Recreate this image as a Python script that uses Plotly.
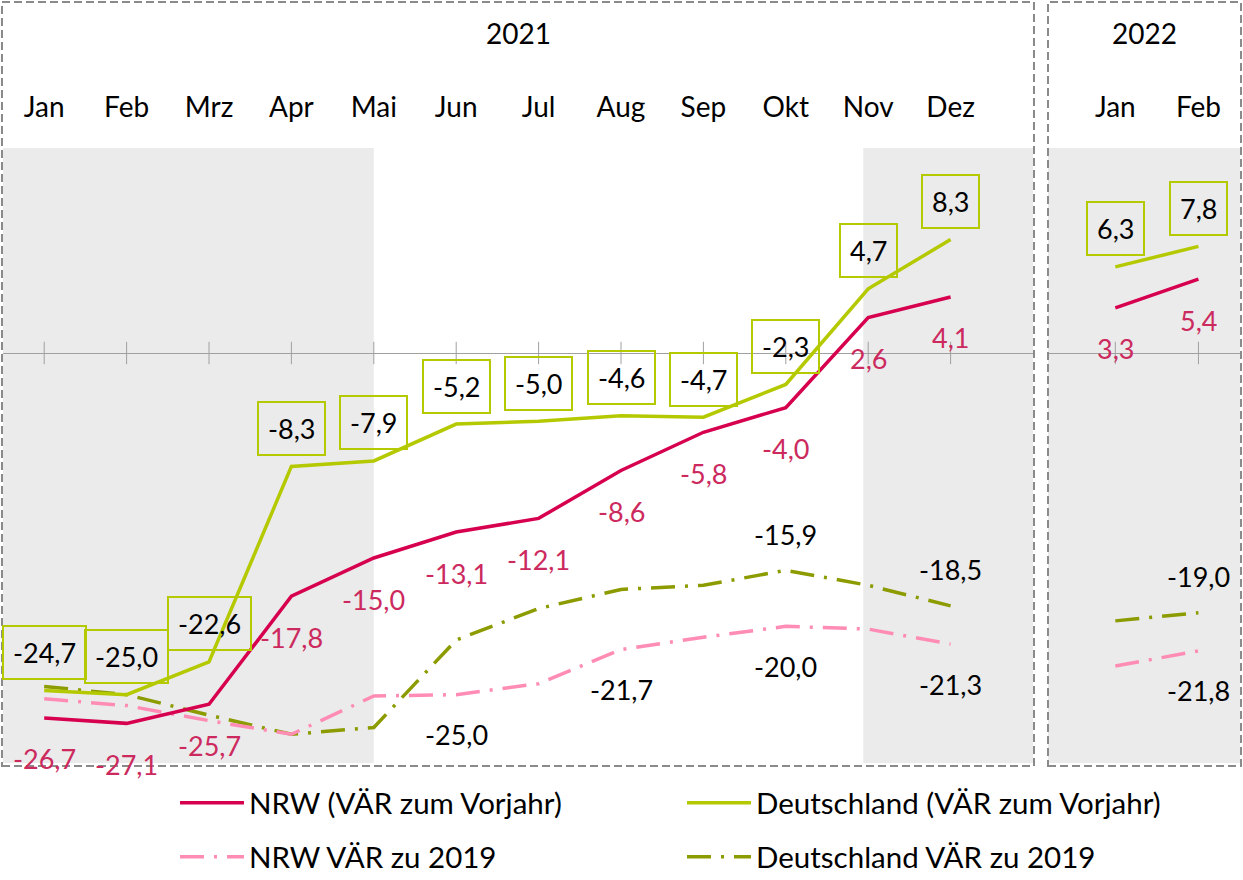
import plotly.graph_objects as go

# ---------------- data ----------------
months21 = ["Jan", "Feb", "Mrz", "Apr", "Mai", "Jun", "Jul", "Aug", "Sep", "Okt", "Nov", "Dez"]
months22 = ["Jan", "Feb"]
year_labels = ["2021", "2022"]

nrw_yoy_21 = [-26.7, -27.1, -25.7, -17.8, -15.0, -13.1, -12.1, -8.6, -5.8, -4.0, 2.6, 4.1]
nrw_yoy_22 = [3.3, 5.4]
de_yoy_21 = [-24.7, -25.0, -22.6, -8.3, -7.9, -5.2, -5.0, -4.6, -4.7, -2.3, 4.7, 8.3]
de_yoy_22 = [6.3, 7.8]
nrw_19_21 = [-25.3, -25.8, -26.9, -27.9, -25.1, -25.0, -24.2, -21.7, -20.8, -20.0, -20.2, -21.3]
nrw_19_22 = [-22.9, -21.8]
de_19_21 = [-24.4, -25.0, -26.5, -27.9, -27.4, -21.0, -18.7, -17.3, -17.0, -15.9, -17.0, -18.5]
de_19_22 = [-19.6, -19.0]

# which points carry a value label for the "zu 2019" series
nrw_19_labelled_21 = ["Jun", "Aug", "Okt", "Dez"]
nrw_19_labelled_22 = ["Feb"]
de_19_labelled_21 = ["Okt", "Dez"]
de_19_labelled_22 = ["Feb"]

names = ["NRW (VÄR zum Vorjahr)", "Deutschland (VÄR zum Vorjahr)",
         "NRW VÄR zu 2019", "Deutschland VÄR zu 2019"]

# ---------------- style ----------------
W, H = 1243, 880
L, R, T, B = 3, 3, 148, 117
PW, PH = W - L - R, H - T - B
FONT = "Lato, 'Open Sans', sans-serif"
FS = 27
FS_AX = 28
FS_LEG = 29.5

RED = "#d6004f"
RED_TXT = "#cc2a5e"
LIME = "#b5c900"
PINK = "#ff8cb4"
OLIVE = "#8c9b00"
GREY_BG = "#ebebeb"
AXIS_GREY = "#a0a0a0"
BORDER = "#8a8a8a"
DASHDOT = "24px,10px,3px,10px"


def px_x(p):
    return (p - L) / PW


def px_y(p):
    return (H - B - p) / PH


def fmt(v):
    return f"{v:.1f}".replace(".", ",")


fig = go.Figure()

# tick marks on the zero line
for xs, xa in ((months21, "x"), (months22, "x2")):
    fig.add_trace(go.Scatter(
        x=xs, y=[0] * len(xs), xaxis=xa, yaxis="y", mode="markers",
        marker=dict(symbol="line-ns", size=16, line=dict(width=1, color=AXIS_GREY), color=AXIS_GREY),
        showlegend=False, hoverinfo="skip"))

series = [
    # name, v21, v22, color, dash, width, legend
    (names[3], de_19_21, de_19_22, OLIVE, DASHDOT, 3.5, "legend4"),
    (names[2], nrw_19_21, nrw_19_22, PINK, DASHDOT, 3.5, "legend3"),
    (names[1], de_yoy_21, de_yoy_22, LIME, "solid", 3.5, "legend2"),
    (names[0], nrw_yoy_21, nrw_yoy_22, RED, "solid", 3.5, "legend"),
]
for name, v21, v22, col, dash, w, leg in series:
    fig.add_trace(go.Scatter(
        x=months21, y=v21, xaxis="x", yaxis="y", mode="lines", name=name,
        line=dict(color=col, width=w, dash=dash), legendgroup=name, legend=leg,
        showlegend=True))
    fig.add_trace(go.Scatter(
        x=months22, y=v22, xaxis="x2", yaxis="y", mode="lines", name=name,
        line=dict(color=col, width=w, dash=dash), legendgroup=name, legend=leg,
        showlegend=False))

annotations = []


def add_labels(xs, vals, xref, color, shift, boxed=False, only=None):
    for m, v in zip(xs, vals):
        if only is not None and m not in only:
            continue
        a = dict(x=m, y=v, xref=xref, yref="y", text=fmt(v), showarrow=False,
                 yshift=shift, font=dict(family=FONT, size=FS, color=color),
                 xanchor="center", yanchor="middle")
        if boxed:
            a.update(bordercolor=LIME, borderwidth=2, borderpad=9)
        annotations.append(a)


add_labels(months21, nrw_yoy_21, "x", RED_TXT, -41)
add_labels(months22, nrw_yoy_22, "x2", RED_TXT, -41)
add_labels(months21, de_yoy_21, "x", "#000000", 38, boxed=True)
add_labels(months22, de_yoy_22, "x2", "#000000", 38, boxed=True)
add_labels(months21, nrw_19_21, "x", "#000000", -40, only=nrw_19_labelled_21)
add_labels(months22, nrw_19_22, "x2", "#000000", -40, only=nrw_19_labelled_22)
add_labels(months21, de_19_21, "x", "#000000", 36, only=de_19_labelled_21)
add_labels(months22, de_19_22, "x2", "#000000", 36, only=de_19_labelled_22)

# year headers
for txt, cx in zip(year_labels, ((2 + 1034) / 2, (1048 + 1241) / 2)):
    annotations.append(dict(x=px_x(cx), y=px_y(33), xref="paper", yref="paper", text=txt,
                            showarrow=False, font=dict(family=FONT, size=FS_AX, color="#000"),
                            xanchor="center", yanchor="middle"))

shapes = [
    # grey shaded periods
    dict(type="rect", xref="x", yref="y domain", x0=-0.5, x1=4, y0=0, y1=1,
         fillcolor=GREY_BG, line=dict(width=0), layer="below"),
    dict(type="rect", xref="x", yref="y domain", x0=9.94, x1=12, y0=0, y1=1,
         fillcolor=GREY_BG, line=dict(width=0), layer="below"),
    dict(type="rect", xref="x2 domain", yref="y domain", x0=0, x1=1, y0=0, y1=1,
         fillcolor=GREY_BG, line=dict(width=0), layer="below"),
    # dashed panel frames
    dict(type="rect", xref="paper", yref="paper", x0=px_x(2), x1=px_x(1034), y0=px_y(766), y1=px_y(2),
         line=dict(color=BORDER, width=2, dash="8px,4px"), fillcolor="rgba(0,0,0,0)", layer="above"),
    dict(type="rect", xref="paper", yref="paper", x0=px_x(1048), x1=px_x(1241), y0=px_y(766), y1=px_y(2),
         line=dict(color=BORDER, width=2, dash="8px,4px"), fillcolor="rgba(0,0,0,0)", layer="above"),
]

xcommon = dict(type="category", side="top", anchor="y", showgrid=False, zeroline=False,
               showline=False, ticks="", tickfont=dict(family=FONT, size=FS_AX, color="#000"),
               ticklabelstandoff=24, fixedrange=True)

legend_common = dict(orientation="h", xanchor="left", yanchor="middle", itemwidth=64,
                     bgcolor="rgba(0,0,0,0)", borderwidth=0,
                     font=dict(family=FONT, size=FS_LEG, color="#000"))

fig.update_layout(
    width=W, height=H, margin=dict(l=L, r=R, t=T, b=B, autoexpand=False),
    paper_bgcolor="white", plot_bgcolor="white",
    font=dict(family=FONT, size=FS, color="#000"),
    xaxis=dict(domain=[0, px_x(1033)], range=[-0.5, 12], categoryorder="array",
               categoryarray=months21, **xcommon),
    xaxis2=dict(domain=[px_x(1048), 1], range=[-0.81, 1.5], categoryorder="array",
                categoryarray=months22, **xcommon),
    yaxis=dict(range=[-30, 15], showticklabels=False, showgrid=False, showline=False,
               zeroline=True, zerolinecolor=AXIS_GREY, zerolinewidth=1, fixedrange=True),
    legend=dict(x=px_x(175), y=px_y(803), **legend_common),
    legend2=dict(x=px_x(682), y=px_y(803), **legend_common),
    legend3=dict(x=px_x(175), y=px_y(857), **legend_common),
    legend4=dict(x=px_x(682), y=px_y(857), **legend_common),
    annotations=annotations, shapes=shapes, hovermode=False,
)

fig.write_html("out.html", post_script="document.body.style.margin='0';",
               config={"displayModeBar": False})
